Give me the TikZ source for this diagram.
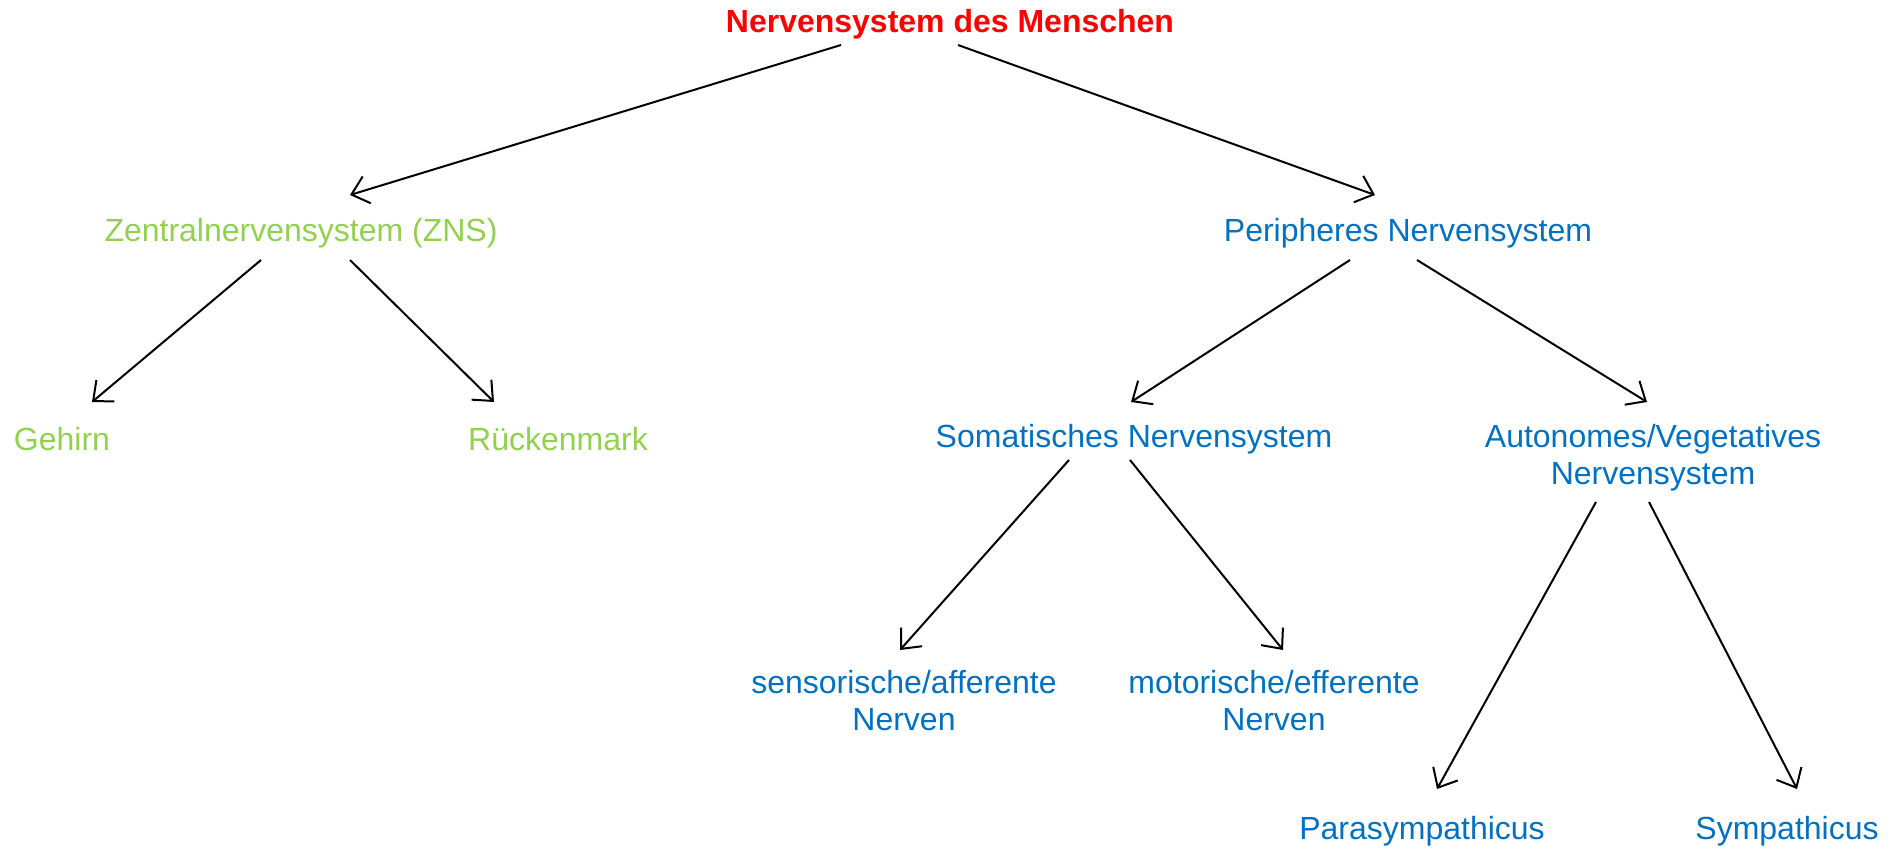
\documentclass[tikz,border=0pt]{standalone}
\usepackage{fontspec}
\setmainfont{Liberation Sans}
\usetikzlibrary{arrows.meta,calc}
\definecolor{tred}{RGB}{255,0,0}
\definecolor{tgreen}{RGB}{146,208,80}
\definecolor{tblue}{RGB}{0,112,192}
\begin{document}
\begin{tikzpicture}[x=1pt,y=-1pt,
  lbl/.style={inner sep=0pt,align=center,font=\fontsize{32}{37}\selectfont},
  zns/.style={lbl,text=tgreen},
  pns/.style={lbl,text=tblue},
  conn/.style={draw=black,line width=2pt,-{Straight Barb[length=16pt,width=28pt,line width=2pt]}}]
\useasboundingbox (0,0) rectangle (1903,849);
\node[lbl,text=tred,font=\bfseries\fontsize{32}{37}\selectfont] (title) at (950,24) {Nervensystem des Menschen};
\node[zns] (zns) at (301,233) {Zentralnervensystem (ZNS)};
\node[pns] (pns) at (1408,233) {Peripheres Nervensystem};
\node[zns] (geh) at (62,439) {Gehirn};
\node[zns] (rm) at (558,439) {Rückenmark};
\node[pns] (som) at (1134,439) {Somatisches Nervensystem};
\node[pns] (aut) at (1653,458) {Autonomes/Vegetatives\\Nervensystem};
\node[pns] (sens) at (904,701) {sensorische/afferente\\Nerven};
\node[pns] (mot) at (1274,701) {motorische/efferente\\Nerven};
\node[pns] (para) at (1422,831) {Parasympathicus};
\node[pns] (sym) at (1787,831) {Sympathicus};

\draw[conn] ($(title.center)+(-109,21)$) -- ($(zns.center)+(49,-38)$);
\draw[conn] ($(title.center)+(8,21)$) -- ($(pns.center)+(-33,-38)$);
\draw[conn] ($(zns.center)+(-40,27)$) -- ($(geh.center)+(30,-37)$);
\draw[conn] ($(zns.center)+(49,27)$) -- ($(rm.center)+(-64,-37)$);
\draw[conn] ($(pns.center)+(-58,27)$) -- ($(som.center)+(-3,-37)$);
\draw[conn] ($(pns.center)+(9,27)$) -- ($(aut.center)+(-6,-56)$);
\draw[conn] ($(som.center)+(-65,21)$) -- ($(sens.center)+(-4,-51)$);
\draw[conn] ($(som.center)+(-4,21)$) -- ($(mot.center)+(9,-51)$);
\draw[conn] ($(aut.center)+(-57,44)$) -- ($(para.center)+(15,-42)$);
\draw[conn] ($(aut.center)+(-4,44)$) -- ($(sym.center)+(10,-42)$);
\end{tikzpicture}
\end{document}
